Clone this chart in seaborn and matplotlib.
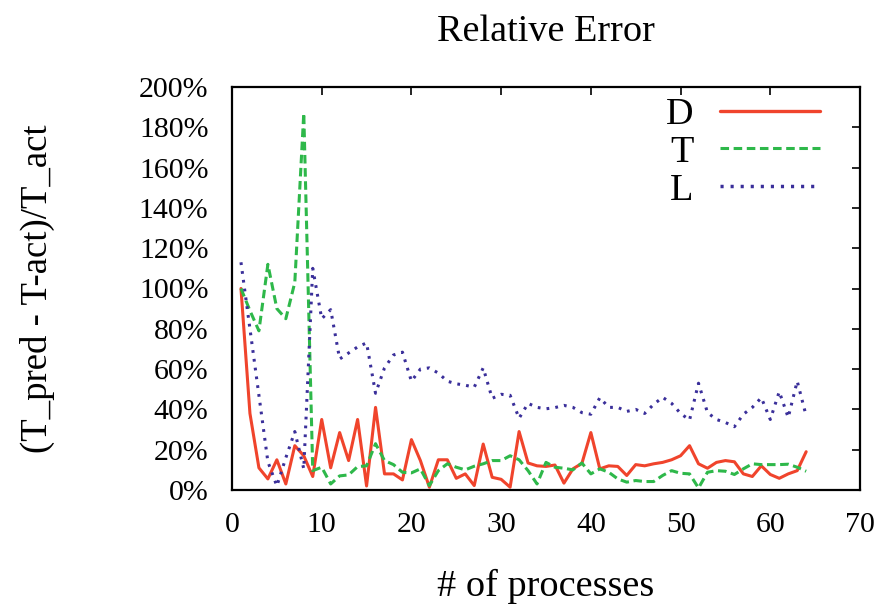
import numpy as np
import pandas as pd
import matplotlib
matplotlib.use("Agg")
import matplotlib.pyplot as plt
import seaborn as sns

# Relative prediction error (%) per process count for the three models
procs = list(range(1, 65))
err_d = [100, 38, 11, 5.5, 15, 3, 22, 17, 6.7, 35,
         11, 28.5, 14.6, 35, 2, 41, 8, 8, 5, 25,
         14.6, 1.4, 15, 15, 5.8, 8, 2.2, 22.8, 6.3, 5.3,
         1.4, 29, 13.4, 12, 11.7, 12.4, 3.4, 10.5, 13.2, 28.5,
         10.5, 12, 11.7, 7.2, 12.6, 12, 13, 13.7, 15, 17,
         22, 13, 10.8, 13.7, 14.6, 14, 8, 6.7, 12, 7.7,
         5.8, 8, 9.6, 19]
err_t = [100, 89, 79, 112, 90, 85, 103, 187, 9.6, 11.3,
         3, 7, 7.5, 11.6, 12, 23, 14.6, 12.6, 8.8, 8.5,
         10.5, 2.2, 9.6, 13, 11.3, 10, 11.8, 13, 14.6, 14.6,
         17, 15, 9.6, 3, 13.7, 11.3, 10.8, 10, 13.4, 8,
         10.5, 8.8, 5.5, 3.9, 4.7, 4.2, 4.2, 7.2, 9.6, 8.3,
         8, 1, 8.8, 9.6, 9.3, 7.7, 10.5, 13, 12.6, 12.6,
         12.6, 12.8, 11.3, 9.3]
err_l = [113, 80, 47, 14, 2, 16, 29, 10.5, 110, 85,
         89.5, 65, 68, 71, 73, 48, 60.6, 67, 68.4, 54,
         60, 60.6, 58, 54, 52.7, 52, 51, 60.6, 45.5, 47.5,
         47, 35.6, 43, 41, 40.3, 40.9, 42, 41, 38.4, 37.6,
         45.8, 41, 41, 39, 40, 38, 42.5, 46, 43, 38,
         34.7, 53, 38.4, 35, 33.5, 31.4, 37.6, 41, 45.8, 35,
         48.8, 36, 54, 36.8]

series_names = ["D", "T", "L"]
series_colors = ["#f0442c", "#2eb84a", "#3a2f9a"]
x_ticks = [0, 10, 20, 30, 40, 50, 60, 70]
y_ticks = [0, 20, 40, 60, 80, 100, 120, 140, 160, 180, 200]

df = pd.DataFrame({
    "procs": procs * 3,
    "err": err_d + err_t + err_l,
    "model": sum([[n] * len(procs) for n in series_names], []),
})

sns.set_theme(style="white")
plt.rcParams["font.family"] = ["Liberation Serif", "DejaVu Serif"]
plt.rcParams["text.color"] = "black"
plt.rcParams["axes.labelcolor"] = "black"
plt.rcParams["axes.titlecolor"] = "black"

fig = plt.figure(figsize=(8.88, 6.09), dpi=100)
ax = fig.add_axes([232 / 888, 1 - 490 / 609, (860 - 232) / 888, (490 - 87) / 609])

sns.lineplot(
    data=df, x="procs", y="err", hue="model", style="model",
    hue_order=series_names, style_order=series_names,
    palette=dict(zip(series_names, series_colors)),
    dashes={"D": "", "T": (2.8, 1.5), "L": (0.9, 2.0)},
    ax=ax, linewidth=2.2,
)
for line in ax.get_lines():
    if line.get_label() == "L":
        line.set_linewidth(2.5)
    elif line.get_label() == "D":
        line.set_linewidth(2.4)

ax.set_xlim(0, 70)
ax.set_ylim(0, 200)
ax.set_xticks(x_ticks)
ax.set_yticks(y_ticks)
ax.set_yticklabels([f"{v}%" for v in y_ticks])

for s in ax.spines.values():
    s.set_visible(True)
    s.set_color("black")
    s.set_linewidth(1.6)

ax.tick_params(axis="both", which="major", direction="in", length=6, width=1.2,
               top=True, right=True, labelsize=21.5, colors="black")
ax.tick_params(axis="x", pad=16)
ax.tick_params(axis="y", pad=17)

ax.set_title("Relative Error", fontsize=27.5, pad=33)
ax.set_xlabel("# of processes", fontsize=27.5, labelpad=22)
ax.set_ylabel("(T_pred - T-act)/T_act", fontsize=26.5, labelpad=60)

handles, labels = ax.get_legend_handles_labels()
for h in handles:
    if h.get_label() == "L":
        h.set_linewidth(2.5)
    elif h.get_label() == "D":
        h.set_linewidth(2.4)
leg = ax.legend(handles, labels, loc="upper right", frameon=False,
                markerfirst=False, fontsize=27.5, handlelength=2.6,
                labelspacing=0.08, borderaxespad=0.0, handletextpad=0.7,
                bbox_to_anchor=(1 - 25 / 628, 1 + 5 / 403))

fig.savefig("out.png", dpi=100, facecolor="white")
